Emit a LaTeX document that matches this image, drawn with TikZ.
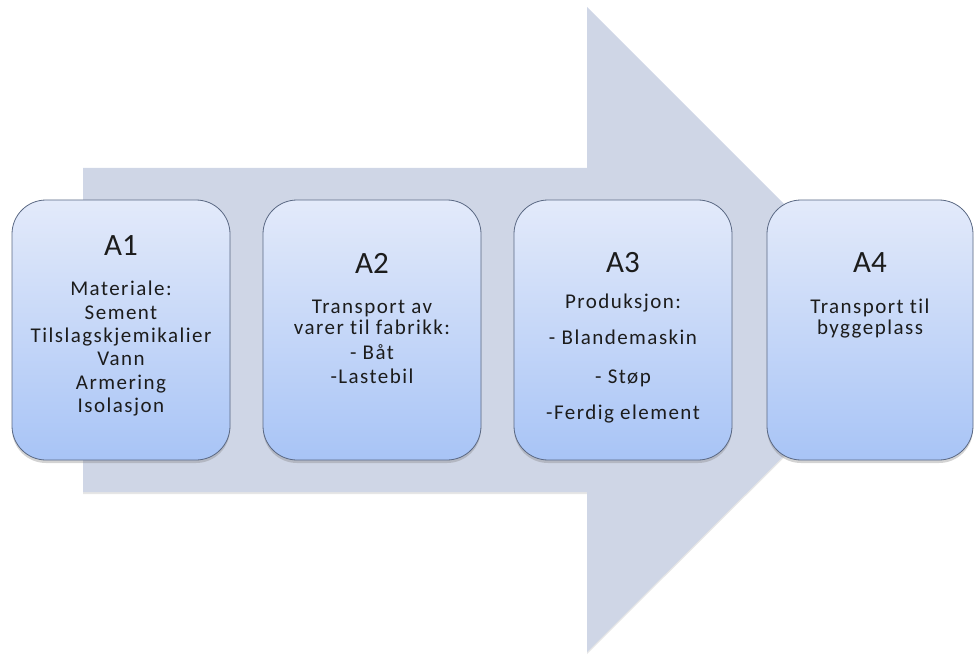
\documentclass[tikz,border=0pt]{standalone}
\usepackage{fontspec}
\setmainfont{Carlito}[Ligatures=NoCommon]
\newfontfamily\stagefont{Carlito}[LetterSpace=7,Ligatures=NoCommon]
\usetikzlibrary{positioning,shadows}
\definecolor{arrowbg}{HTML}{CFD6E6}
\definecolor{boxtop}{HTML}{E3EAFA}
\definecolor{boxbot}{HTML}{A8C4F6}
\definecolor{boxline}{HTML}{5A6883}
\definecolor{ink}{HTML}{1C1C1C}
\tikzset{
  stage/.style={draw=boxline, line width=0.8pt, rounded corners=34pt,
    top color=boxtop, bottom color=boxbot, minimum width=218pt, minimum height=260pt,
    drop shadow={shadow xshift=0pt, shadow yshift=-3pt, opacity=0.35}},
  stagehead/.style={font=\fontsize{31}{36}\selectfont, text=ink, inner sep=0pt},
  stagetext/.style={font=\stagefont\fontsize{21}{21}\selectfont, text=ink, align=center, inner sep=0pt},
}
\begin{document}
\begin{tikzpicture}[x=1pt,y=-1pt]
  \useasboundingbox (0,0) rectangle (975,655);
  % big process arrow behind the stages
  \fill[arrowbg, drop shadow={shadow xshift=0pt, shadow yshift=-2pt, opacity=0.2}]
    (83,168) -- (587,168) -- (587,7) -- (910,330) -- (587,652) -- (587,492) -- (83,492) -- cycle;
  \node[stage] (a1) at (121,330) {};
  \node[stage] (a2) at (372,330) {};
  \node[stage] (a3) at (623,330) {};
  \node[stage, minimum width=206pt] (a4) at (870,330) {};
  \node[stagehead] (h1) at (121,246) {A1};
  \node[stagehead] (h2) at (372,263) {A2};
  \node[stagehead] (h3) at (623,263) {A3};
  \node[stagehead] (h4) at (870,263) {A4};
  \node[stagetext, font=\stagefont\fontsize{21}{23.3}\selectfont, below=25pt of h1] (t1)
    {Materiale:\\Sement\\Tilslagskjemikalier\\Vann\\Armering\\Isolasjon};
  \node[stagetext, below=27pt of h2] (t2)
    {Transport av\\varer til fabrikk:\\[4pt]- Båt\\[3pt]-Lastebil};
  \node[stagetext, below=20pt of h3] (t3)
    {Produksjon:\\[15pt]- Blandemaskin\\[18pt]- Støp\\[15pt]-Ferdig element};
  \node[stagetext, below=26pt of h4] (t4)
    {Transport til\\byggeplass};
\end{tikzpicture}
\end{document}
